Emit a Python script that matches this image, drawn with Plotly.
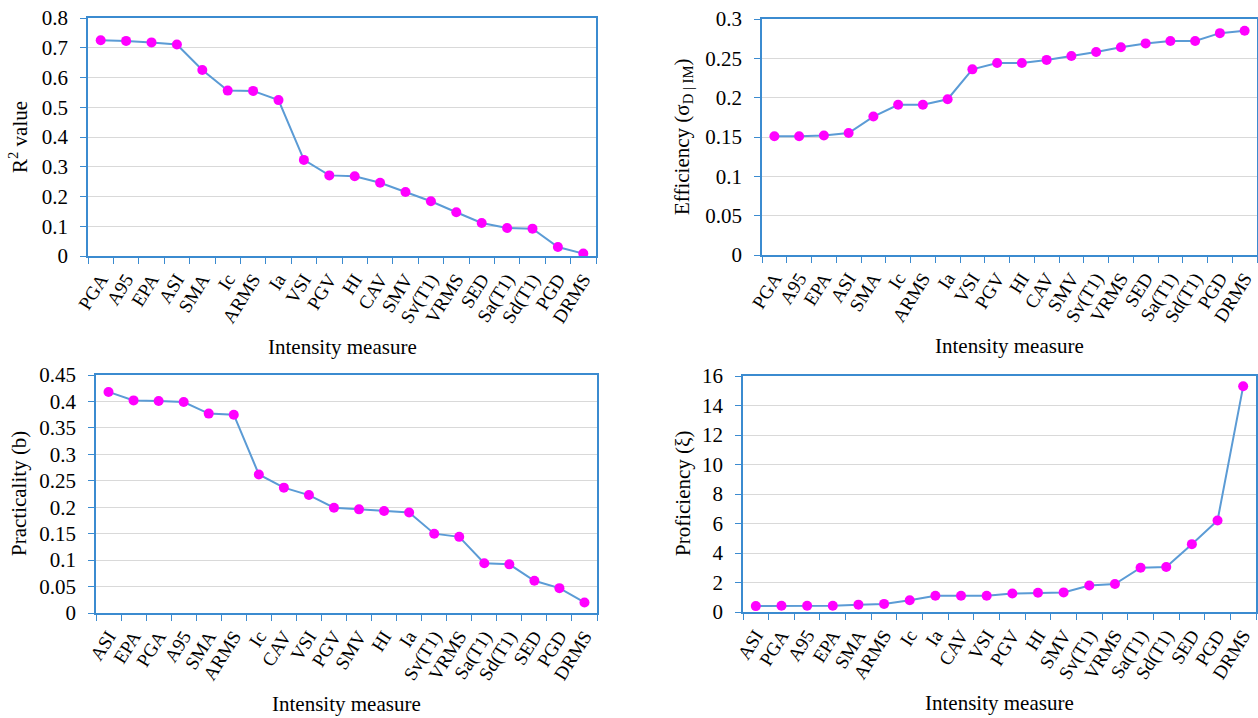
import plotly.graph_objects as go

# ---- data -----------------------------------------------------------------
r2_ims = ["PGA", "A95", "EPA", "ASI", "SMA", "Ic", "ARMS", "Ia", "VSI", "PGV",
          "HI", "CAV", "SMV", "Sv(T1)", "VRMS", "SED", "Sa(T1)", "Sd(T1)", "PGD", "DRMS"]
r2_vals = [0.725, 0.723, 0.718, 0.711, 0.625, 0.556, 0.555, 0.524, 0.323, 0.271,
           0.268, 0.246, 0.215, 0.184, 0.147, 0.111, 0.094, 0.092, 0.030, 0.008]

eff_ims = ["PGA", "A95", "EPA", "ASI", "SMA", "Ic", "ARMS", "Ia", "VSI", "PGV",
           "HI", "CAV", "SMV", "Sv(T1)", "VRMS", "SED", "Sa(T1)", "Sd(T1)", "PGD", "DRMS"]
eff_vals = [0.151, 0.151, 0.152, 0.155, 0.176, 0.191, 0.191, 0.198, 0.236, 0.244,
            0.244, 0.248, 0.253, 0.258, 0.264, 0.269, 0.272, 0.272, 0.282, 0.285]

prac_ims = ["ASI", "EPA", "PGA", "A95", "SMA", "ARMS", "Ic", "CAV", "VSI", "PGV",
            "SMV", "HI", "Ia", "Sv(T1)", "VRMS", "Sa(T1)", "Sd(T1)", "SED", "PGD", "DRMS"]
prac_vals = [0.418, 0.402, 0.401, 0.399, 0.377, 0.375, 0.262, 0.237, 0.223, 0.199,
             0.196, 0.193, 0.190, 0.150, 0.144, 0.094, 0.092, 0.061, 0.047, 0.020]

prof_ims = ["ASI", "PGA", "A95", "EPA", "SMA", "ARMS", "Ic", "Ia", "CAV", "VSI",
            "PGV", "HI", "SMV", "Sv(T1)", "VRMS", "Sa(T1)", "Sd(T1)", "SED", "PGD", "DRMS"]
prof_vals = [0.40, 0.42, 0.42, 0.42, 0.50, 0.55, 0.80, 1.10, 1.10, 1.10,
             1.25, 1.30, 1.33, 1.80, 1.90, 3.00, 3.05, 4.60, 6.20, 15.30]

x_title = "Intensity measure"

W, H = 1258, 718
FONT = "Liberation Serif, serif"
AXIS_BLUE = "#3b8bd0"
LINE_BLUE = "#5b9bd5"
MAGENTA = "#ff00ff"
GRID = "#d9d9d9"

# panel geometry in pixels: (left, right, top, bottom)
panels = [
    dict(ims=r2_ims, vals=r2_vals, box=(88, 596, 18, 256), yr=(0, 0.8), dt=0.1,
         ytitle="R<sup>2</sup> value", ytx=18),
    dict(ims=eff_ims, vals=eff_vals, box=(762, 1257, 19, 255), yr=(0, 0.3), dt=0.05,
         ytitle="Efficiency (σ<sub>D | IM</sub>)", ytx=683),
    dict(ims=prac_ims, vals=prac_vals, box=(96, 597, 375, 613), yr=(0, 0.45), dt=0.05,
         ytitle="Practicality (b)", ytx=19),
    dict(ims=prof_ims, vals=prof_vals, box=(743, 1256, 376, 612), yr=(0, 16), dt=2,
         ytitle="Proficiency (ξ)", ytx=683),
]

fig = go.Figure()
annotations = []
layout_axes = {}

for i, p in enumerate(panels, start=1):
    sfx = "" if i == 1 else str(i)
    l, r, t, b = p["box"]
    fig.add_trace(go.Scatter(
        x=p["ims"], y=p["vals"], mode="lines+markers",
        line=dict(color=LINE_BLUE, width=2),
        marker=dict(color=MAGENTA, size=10),
        xaxis="x" + sfx, yaxis="y" + sfx, showlegend=False,
    ))
    layout_axes["xaxis" + sfx] = dict(
        domain=[l / W, r / W], anchor="y" + sfx, type="category",
        range=[-0.5, len(p["ims"]) - 0.5], tickson="boundaries",
        showline=True, linecolor=AXIS_BLUE, linewidth=1.5, mirror=True,
        ticks="outside", ticklen=6, tickcolor=AXIS_BLUE, tickwidth=1.2,
        showgrid=False, tickangle=-58, automargin=False,
        ticklabelstandoff=3,
        tickfont=dict(family=FONT, size=19, color="#000"),
    )
    layout_axes["yaxis" + sfx] = dict(
        domain=[1 - b / H, 1 - t / H], anchor="x" + sfx,
        range=list(p["yr"]), dtick=p["dt"], tick0=0,
        showline=True, linecolor=AXIS_BLUE, linewidth=1.5, mirror=True,
        ticks="outside", ticklen=6, tickcolor=AXIS_BLUE, tickwidth=1.2,
        showgrid=True, gridcolor=GRID, gridwidth=1, zeroline=False,
        ticklabelstandoff=8, automargin=False,
        tickfont=dict(family=FONT, size=21, color="#000"),
    )
    # axis titles
    annotations.append(dict(
        text=x_title, xref="paper", yref="paper",
        x=(l + r) / 2 / W, y=1 - (b + 91) / H,
        xanchor="center", yanchor="middle", showarrow=False,
        font=dict(family=FONT, size=21, color="#000"),
    ))
    annotations.append(dict(
        text=p["ytitle"], xref="paper", yref="paper",
        x=p["ytx"] / W, y=1 - (t + b) / 2 / H, textangle=-90,
        xanchor="center", yanchor="middle", showarrow=False,
        font=dict(family=FONT, size=21, color="#000"),
    ))

fig.update_layout(
    width=W, height=H, margin=dict(l=0, r=0, t=0, b=0),
    font=dict(family=FONT, color="#000"),
    paper_bgcolor="white", plot_bgcolor="white",
    annotations=annotations, **layout_axes,
)

fig.write_html("out.html")
